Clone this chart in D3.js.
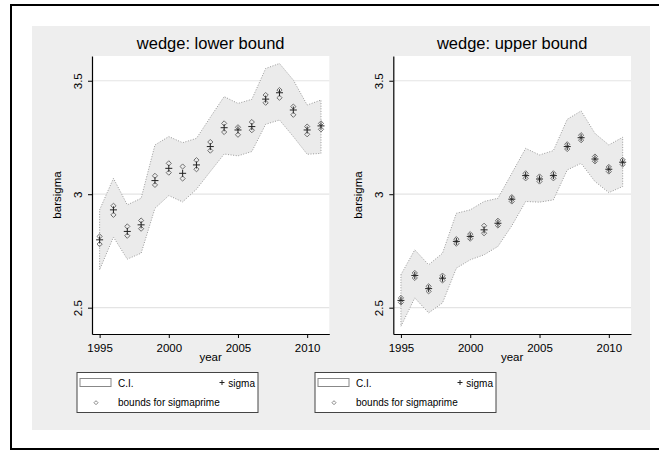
<!DOCTYPE html>
<html>
<head>
<meta charset="utf-8">
<script src="https://cdn.jsdelivr.net/npm/d3@7/dist/d3.min.js"></script>
<style>
body { margin: 0; background: #fff; }
svg { display: block; font-family: "Liberation Sans", Arial, sans-serif; }
</style>
</head>
<body>
<svg width="659" height="450"></svg>
<script>
// data
var years = [1995, 1996, 1997, 1998, 1999, 2000, 2001, 2002, 2003, 2004, 2005, 2006, 2007, 2008, 2009, 2010, 2011];
var xTicks = [1995, 2000, 2005, 2010];
var yTicks = [2.5, 3, 3.5];

// wedge: lower bound
var lowSigma = [2.799, 2.931, 2.836, 2.865, 3.060, 3.114, 3.092, 3.129, 3.210, 3.293, 3.283, 3.298, 3.419, 3.447, 3.371, 3.283, 3.301];
var lowBndHi = [2.814, 2.949, 2.858, 2.884, 3.081, 3.136, 3.122, 3.150, 3.230, 3.312, 3.295, 3.318, 3.437, 3.459, 3.386, 3.298, 3.312];
var lowBndLo = [2.780, 2.909, 2.817, 2.848, 3.041, 3.095, 3.069, 3.110, 3.192, 3.274, 3.262, 3.282, 3.403, 3.425, 3.350, 3.264, 3.286];
var lowCiHi = [2.931, 3.070, 2.953, 2.982, 3.217, 3.254, 3.227, 3.246, 3.339, 3.430, 3.400, 3.418, 3.554, 3.576, 3.503, 3.393, 3.415];
var lowCiLo = [2.667, 2.811, 2.714, 2.740, 2.938, 2.994, 2.966, 3.022, 3.100, 3.177, 3.169, 3.188, 3.308, 3.327, 3.254, 3.176, 3.180];

// wedge: upper bound
var upSigma = [2.532, 2.642, 2.584, 2.630, 2.792, 2.814, 2.843, 2.872, 2.978, 3.082, 3.067, 3.082, 3.210, 3.249, 3.155, 3.110, 3.141];
var upBndHi = [2.543, 2.653, 2.594, 2.641, 2.802, 2.824, 2.861, 2.883, 2.987, 3.092, 3.078, 3.092, 3.220, 3.260, 3.166, 3.120, 3.151];
var upBndLo = [2.523, 2.631, 2.572, 2.620, 2.782, 2.804, 2.828, 2.862, 2.968, 3.070, 3.056, 3.070, 3.199, 3.238, 3.145, 3.100, 3.131];
var upCiHi = [2.645, 2.755, 2.689, 2.740, 2.916, 2.931, 2.968, 2.982, 3.092, 3.202, 3.173, 3.192, 3.330, 3.367, 3.268, 3.217, 3.251];
var upCiLo = [2.418, 2.543, 2.477, 2.521, 2.674, 2.711, 2.733, 2.770, 2.861, 2.968, 2.965, 2.975, 3.107, 3.136, 3.056, 3.007, 3.034];

var svg = d3.select("svg");

// frame and graph region
svg.append("rect").attr("x", 11).attr("y", 5).attr("width", 700).attr("height", 444)
    .attr("fill", "#fff").attr("stroke", "#000").attr("stroke-width", 2);
svg.append("rect").attr("x", 32).attr("y", 26).attr("width", 618).attr("height", 404)
    .attr("fill", "#eeeeee");

var plotTop = 56, plotBottom = 334;
var panels = [
    { title: "wedge: lower bound", x0: 92, x1: 329.3, legX: 77, sigma: lowSigma, hi: lowBndHi, lo: lowBndLo, ciHi: lowCiHi, ciLo: lowCiLo },
    { title: "wedge: upper bound", x0: 393.3, x1: 631, legX: 315, sigma: upSigma, hi: upBndHi, lo: upBndLo, ciHi: upCiHi, ciLo: upCiLo }
];

var diamond = "M0,-2.6L2.6,0L0,2.6L-2.6,0Z";
var plus = "M-3.5,0H3.5M0,-3.5V3.5";

panels.forEach(function (p) {
    var x = d3.scaleLinear().domain([1994.45, 2011.6]).range([p.x0, p.x1]);
    var y = d3.scaleLinear().domain([2.384, 3.609]).range([plotBottom, plotTop]);
    var g = svg.append("g");

    g.append("rect").attr("x", p.x0).attr("y", plotTop).attr("width", p.x1 - p.x0).attr("height", plotBottom - plotTop)
        .attr("fill", "#fff");

    g.selectAll(".grid").data(yTicks).enter().append("line")
        .attr("x1", p.x0).attr("x2", p.x1)
        .attr("y1", function (d) { return y(d); }).attr("y2", function (d) { return y(d); })
        .attr("stroke", "#e4e4e4").attr("stroke-width", 1.2);

    var rows = years.map(function (yr, i) {
        return { yr: yr, s: p.sigma[i], hi: p.hi[i], lo: p.lo[i], ciHi: p.ciHi[i], ciLo: p.ciLo[i] };
    });

    var area = d3.area()
        .x(function (d) { return x(d.yr); })
        .y0(function (d) { return y(d.ciLo); })
        .y1(function (d) { return y(d.ciHi); });
    g.append("path").attr("d", area(rows)).attr("fill", "#ebebeb");

    // dotted outline round the band
    var outline = rows.map(function (d) { return [x(d.yr), y(d.ciHi)]; })
        .concat(rows.slice().reverse().map(function (d) { return [x(d.yr), y(d.ciLo)]; }));
    g.append("path").attr("d", d3.line()(outline) + "Z")
        .attr("fill", "none").attr("stroke", "#999").attr("stroke-width", 1)
        .attr("stroke-dasharray", "1,1.6");

    rows.forEach(function (d) {
        [d.hi, d.lo].forEach(function (v) {
            g.append("path").attr("d", diamond)
                .attr("transform", "translate(" + x(d.yr) + "," + y(v) + ")")
                .attr("fill", "none").attr("stroke", "#707070").attr("stroke-width", 1);
        });
        g.append("path").attr("d", plus)
            .attr("transform", "translate(" + x(d.yr) + "," + y(d.s) + ")")
            .attr("fill", "none").attr("stroke", "#222").attr("stroke-width", 1);
    });

    // axes
    var xaxis = g.append("g").attr("transform", "translate(0," + plotBottom + ")")
        .call(d3.axisBottom(x).tickValues(xTicks).tickSize(4).tickSizeOuter(0).tickFormat(d3.format("d")));
    xaxis.selectAll("text").attr("y", 18).attr("dy", "0").attr("font-size", "11.5px").attr("fill", "#000");

    var yaxis = g.append("g").attr("transform", "translate(" + p.x0 + ",0)")
        .call(d3.axisLeft(y).tickValues(yTicks).tickSize(4).tickSizeOuter(0).tickFormat(function (d) { return d; }));
    yaxis.selectAll("text").attr("transform", "rotate(-90)")
        .attr("x", 0).attr("y", -10.5).attr("dy", "0")
        .attr("text-anchor", "middle").attr("font-size", "11.5px").attr("fill", "#000");

    [xaxis, yaxis].forEach(function (a) {
        a.attr("font-family", null);
        a.select(".domain").attr("stroke", "#000").attr("stroke-width", 1.2);
        a.selectAll("line").attr("stroke", "#000");
    });

    var cx = (p.x0 + p.x1) / 2;
    g.append("text").attr("x", cx).attr("y", 49).attr("text-anchor", "middle")
        .attr("font-size", "16.5px").text(p.title);
    g.append("text").attr("x", cx).attr("y", 361).attr("text-anchor", "middle")
        .attr("font-size", "11.5px").text("year");
    g.append("text").attr("transform", "translate(" + (p.x0 - 31) + "," + ((plotTop + plotBottom) / 2) + ") rotate(-90)")
        .attr("text-anchor", "middle").attr("font-size", "11.5px").text("barsigma");

    // legend
    var L = p.legX;
    var leg = g.append("g").attr("transform", "translate(" + L + ",372.5)");
    leg.append("rect").attr("width", 181).attr("height", 40)
        .attr("fill", "#fff").attr("stroke", "#444").attr("stroke-width", 1);
    leg.append("rect").attr("x", 3).attr("y", 6).attr("width", 31).attr("height", 8)
        .attr("fill", "#fff").attr("stroke", "#888").attr("stroke-width", 1);
    leg.append("text").attr("x", 41).attr("y", 14).attr("font-size", "10px").text("C.I.");
    leg.append("path").attr("d", "M-2.5,0H2.5M0,-2.5V2.5")
        .attr("transform", "translate(145,10)").attr("stroke", "#222").attr("fill", "none");
    leg.append("text").attr("x", 178).attr("y", 14).attr("text-anchor", "end")
        .attr("font-size", "10px").text("sigma");
    leg.append("path").attr("d", "M0,-2L2,0L0,2L-2,0Z")
        .attr("transform", "translate(19,30.2)").attr("stroke", "#888").attr("fill", "none");
    leg.append("text").attr("x", 41).attr("y", 33.5).attr("font-size", "10px").text("bounds for sigmaprime");
});
</script>
</body>
</html>
